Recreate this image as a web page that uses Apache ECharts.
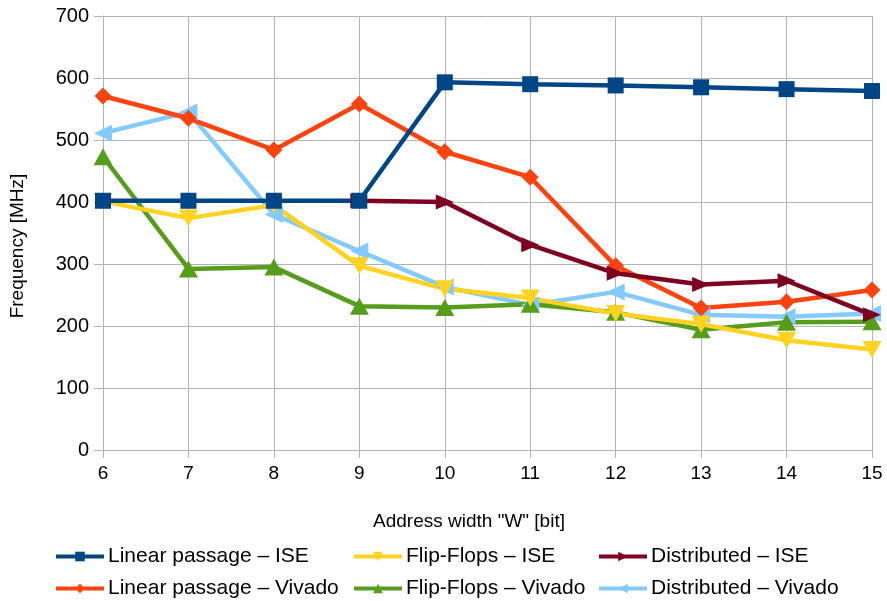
<!DOCTYPE html>
<html>
<head>
<meta charset="utf-8">
<script src="https://cdn.jsdelivr.net/npm/echarts@6/dist/echarts.min.js"></script>
<style>html,body{margin:0;padding:0;background:#fff;}#c{width:887px;height:601px;}</style>
</head>
<body>
<div id="c"></div>
<script>
const widths = [6, 7, 8, 9, 10, 11, 12, 13, 14, 15];
const linearISE    = [402, 402, 402, 402, 593, 590, 588, 585, 582, 579];
const linearVivado = [571, 535, 484, 558, 481, 440, 297, 229, 239, 258];
const ffISE        = [401, 374, 395, 297, 260, 245, 220, 203, 177, 162];
const ffVivado     = [473, 292, 295, 232, 230, 235, 222, 194, 206, 207];
const distISE      = [null, null, null, 402, 400, 331, 285, 267, 273, 218];
const distVivado   = [511, 545, 380, 321, 263, 234, 255, 218, 215, 220];
const yTicks = [0, 100, 200, 300, 400, 500, 600, 700];

const FONT = 'Liberation Sans';
const pair = (arr) => widths.map((w, i) => [w, arr[i]]);

function mk(name, data, color, symbol, size, rot) {
  return {
    name, type: 'line', data: pair(data),
    lineStyle: { color, width: 4.5 },
    itemStyle: { color },
    symbol, symbolSize: size, symbolRotate: rot || 0,
    showAllSymbol: true, animation: false, connectNulls: false
  };
}

const series = [
  mk('Distributed – Vivado', distVivado, '#83caff', 'triangle', [17, 18], 90),
  mk('Flip-Flops – Vivado', ffVivado, '#579d1c', 'triangle', [19, 17], 0),
  mk('Linear passage – Vivado', linearVivado, '#ff420e', 'diamond', [17, 17], 0),
  mk('Distributed – ISE', distISE, '#7e0021', 'triangle', [15, 18], -90),
  mk('Flip-Flops – ISE', ffISE, '#ffd320', 'triangle', [19, 17], 180),
  mk('Linear passage – ISE', linearISE, '#004586', 'rect', [16, 16], 0)
];

function lg(name, left, top) {
  return {
    data: [name], left, top, itemWidth: 48, itemHeight: 12, itemGap: 0,
    padding: 0, selectedMode: false,
    lineStyle: { width: 4 },
    textStyle: { fontFamily: FONT, fontSize: 21, color: '#000', padding: [0, 0, 0, -1] }
  };
}

const chart = echarts.init(document.getElementById('c'), null, { renderer: 'canvas' });
chart.setOption({
  backgroundColor: '#fff',
  animation: false,
  grid: { left: 103, right: 15, top: 16, bottom: 151, containLabel: false },
  xAxis: {
    type: 'value', min: 6, max: 15, interval: 1,
    name: 'Address width "W" [bit]', nameLocation: 'middle', nameGap: 62,
    nameTextStyle: { fontFamily: FONT, fontSize: 19, color: '#000', padding: [0, 37, 0, 0] },
    axisLine: { lineStyle: { color: '#b3b3b3', width: 1 } },
    axisTick: { show: true, length: 8, lineStyle: { color: '#b3b3b3' } },
    axisLabel: { fontFamily: FONT, fontSize: 19, color: '#000', margin: 14 },
    splitLine: { show: true, lineStyle: { color: '#b3b3b3', width: 1 } }
  },
  yAxis: {
    type: 'value', min: yTicks[0], max: yTicks[yTicks.length - 1], interval: 100,
    name: 'Frequency [MHz]', nameLocation: 'middle', nameGap: 76,
    nameTextStyle: { fontFamily: FONT, fontSize: 19, color: '#000', padding: [0, 26, 0, 0] },
    axisLine: { show: true, lineStyle: { color: '#b3b3b3', width: 1 } },
    axisTick: { show: true, length: 9, lineStyle: { color: '#b3b3b3' } },
    axisLabel: { fontFamily: FONT, fontSize: 20, color: '#000', margin: 14 },
    splitLine: { show: true, lineStyle: { color: '#b3b3b3', width: 1 } }
  },
  legend: [
    lg('Linear passage – ISE', 54, 546),
    lg('Linear passage – Vivado', 54, 578),
    lg('Flip-Flops – ISE', 352, 546),
    lg('Flip-Flops – Vivado', 352, 578),
    lg('Distributed – ISE', 597, 546),
    lg('Distributed – Vivado', 597, 578)
  ],
  series
});
</script>
</body>
</html>
